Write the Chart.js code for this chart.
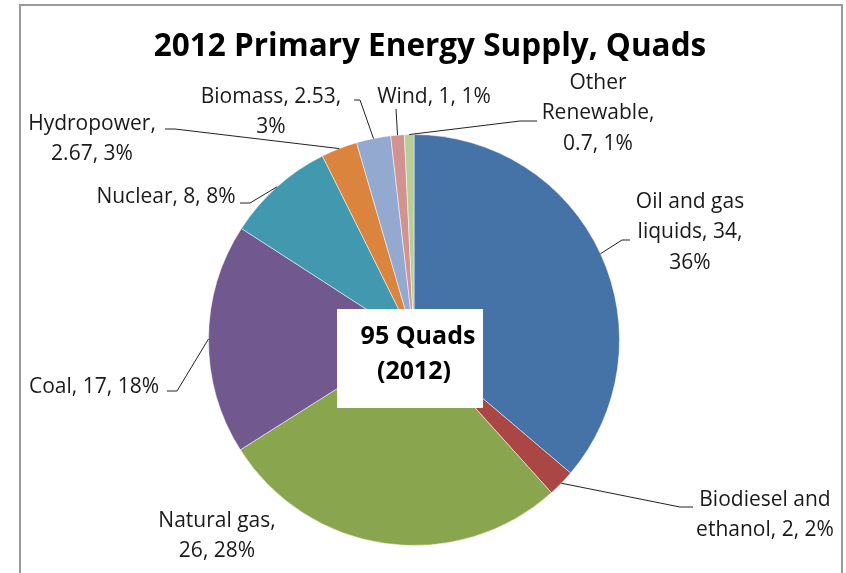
<!DOCTYPE html>
<html>
<head>
<meta charset="utf-8">
<script src="https://cdn.jsdelivr.net/npm/chart.js@4"></script>
<style>
  html, body { margin: 0; padding: 0; background: #ffffff; }
  #wrap { width: 846px; height: 573px; }
</style>
</head>
<body>
<div id="wrap"><canvas id="c" width="846" height="573"></canvas></div>
<script>
// ---- data ----
const categories = ['Oil and gas liquids', 'Biodiesel and ethanol', 'Natural gas', 'Coal', 'Nuclear', 'Hydropower', 'Biomass', 'Wind', 'Other Renewable'];
const values = [34, 2, 26, 17, 8, 2.67, 2.53, 1, 0.7];
const percentLabels = ['36%', '2%', '28%', '18%', '8%', '3%', '3%', '1%', '1%'];
const labelLines = [
  ['Oil and gas', 'liquids, 34,', '36%'],
  ['Biodiesel and', 'ethanol, 2, 2%'],
  ['Natural gas,', '26, 28%'],
  ['Coal, 17, 18%'],
  ['Nuclear, 8, 8%'],
  ['Hydropower,', '2.67, 3%'],
  ['Biomass, 2.53,', '3%'],
  ['Wind, 1, 1%'],
  ['Other', 'Renewable,', '0.7, 1%']
];
const titleText = '2012 Primary Energy Supply, Quads';
const centerLines = ['95 Quads', '(2012)'];

// ---- styling / layout ----
const colors = ['#4572A7', '#AA4643', '#89A54E', '#71588F', '#4198AF', '#DB843D', '#93A9CF', '#D19392', '#B9CD96'];
const FONT = '"Open Sans", Lato, "DejaVu Sans", sans-serif';
const labelLayout = [
  { x: 690, y: 202, leader: [[622, 240], [630, 240]] },
  { x: 765, y: 500, leader: [[680, 507], [693, 507]] },
  { x: 217, y: 521, leader: null },
  { x: 94,  y: 387, leader: [[177, 391], [167, 391]] },
  { x: 166, y: 197, leader: [[250, 203], [240, 203]] },
  { x: 92,  y: 124, leader: [[175, 129], [165, 129]] },
  { x: 271, y: 97,  leader: [[360, 100], [354, 100]] },
  { x: 434, y: 97,  leader: [[396, 109]] },
  { x: 598, y: 83,  leader: [[520, 121], [537, 121]] }
];

const decorPlugin = {
  id: 'decor',
  beforeDraw(chart) {
    const ctx = chart.ctx;
    ctx.save();
    ctx.fillStyle = '#ffffff';
    ctx.fillRect(0, 0, chart.width, chart.height);
    ctx.strokeStyle = '#9a9a9a';
    ctx.lineWidth = 2;
    ctx.strokeRect(20, 5, 822, 620);
    ctx.restore();
  },
  afterDatasetsDraw(chart) {
    const ctx = chart.ctx;
    const meta = chart.getDatasetMeta(0);
    ctx.save();
    // title
    ctx.fillStyle = '#000000';
    ctx.font = 'bold 31.5px ' + FONT;
    ctx.textAlign = 'center';
    ctx.textBaseline = 'alphabetic';
    ctx.fillText(titleText, 430, 56);

    // leaders + labels
    ctx.font = '21px ' + FONT;
    ctx.textBaseline = 'middle';
    ctx.strokeStyle = '#222222';
    ctx.lineWidth = 1;
    meta.data.forEach((arc, i) => {
      const L = labelLayout[i];
      const a = (arc.startAngle + arc.endAngle) / 2;
      const px = arc.x + Math.cos(a) * arc.outerRadius;
      const py = arc.y + Math.sin(a) * arc.outerRadius;
      if (L.leader) {
        ctx.beginPath();
        ctx.moveTo(px, py);
        L.leader.forEach(p => ctx.lineTo(p[0], p[1]));
        ctx.stroke();
      }
      ctx.fillStyle = '#1a1a1a';
      labelLines[i].forEach((t, j) => ctx.fillText(t, L.x, L.y + j * 30.5));
    });

    // center box
    ctx.fillStyle = '#ffffff';
    ctx.fillRect(337, 309, 146, 99);
    ctx.fillStyle = '#000000';
    ctx.font = 'bold 25px ' + FONT;
    ctx.fillText(centerLines[0], 418, 337);
    ctx.fillText(centerLines[1], 414, 372);
    ctx.restore();
  }
};

new Chart(document.getElementById('c'), {
  type: 'pie',
  data: {
    labels: categories,
    datasets: [{
      data: values,
      backgroundColor: colors,
      borderColor: 'rgba(255,255,255,0.5)',
      borderWidth: 1
    }]
  },
  options: {
    responsive: false,
    animation: false,
    layout: { padding: { left: 208, right: 226, top: 134, bottom: 27 } },
    plugins: {
      legend: { display: false },
      tooltip: { enabled: false },
      title: { display: false }
    }
  },
  plugins: [decorPlugin]
});
</script>
</body>
</html>
